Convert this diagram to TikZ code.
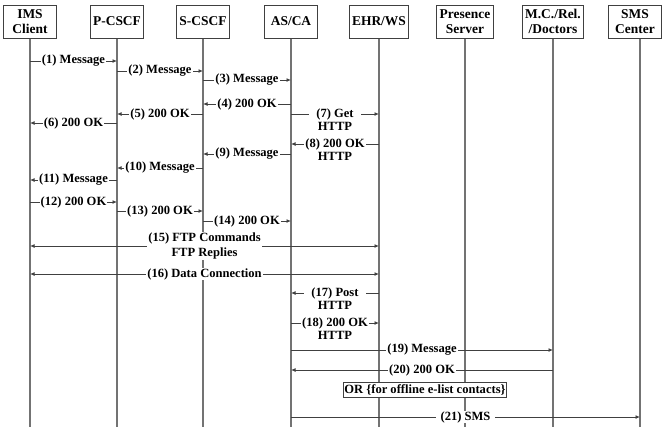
\documentclass[tikz,border=0pt]{standalone}
\usepackage{fontspec}
\setmainfont{Liberation Serif}
\usetikzlibrary{arrows.meta,positioning}

\begin{document}
\begin{tikzpicture}[
  x=1bp, y=-1bp,
  entity/.style={draw=black!75, line width=1bp, fill=white, minimum width=53bp, minimum height=33bp, inner xsep=3bp, align=center, font=\fontsize{13.5}{15}\selectfont\bfseries},
  life/.style={draw=black!55, line width=1.2bp},
  msg/.style={draw=black!75, line width=0.9bp, -{Latex[length=4.5bp,width=4bp]}},
  both/.style={msg, {Latex[length=4.5bp,width=4bp]}-{Latex[length=4.5bp,width=4bp]}},
  lbl/.style={fill=white, inner xsep=1bp, inner ysep=0.5bp, align=center, font=\fontsize{12.6}{15.5}\selectfont\bfseries},
  wide/.style={lbl, inner xsep=7bp}
  ]
  \useasboundingbox (0,0) rectangle (662,427);

  % entities
  \node[entity] (ims)   at (30,21.5)  {IMS\\Client};
  \node[entity] (pcscf) at (117,21.5) {P-CSCF};
  \node[entity] (scscf) at (203,21.5) {S-CSCF};
  \node[entity] (asca)  at (291,21.5) {AS/CA};
  \node[entity] (ehr)   at (379,21.5) {EHR/WS};
  \node[entity] (pres)  at (465,21.5) {Presence\\Server};
  \node[entity] (mc)    at (553,21.5) {M.C./Rel.\\/Doctors};
  \node[entity] (sms)   at (635,21.5) {SMS\\Center};

  % lifelines
  \coordinate (bottom) at (0,427);
  \coordinate (smsx) at ([xshift=5bp]sms.south);
  \foreach \n in {ims,pcscf,scscf,asca,ehr,pres,mc}
    \draw[life] (\n.south) -- (\n.south |- bottom);
  \draw[life] (smsx) -- (smsx |- bottom);

  % registration
  \draw[msg] (ims |- 0,61)    -- node[lbl] {(1) Message} (pcscf |- 0,61);
  \draw[msg] (pcscf |- 0,71)  -- node[lbl] {(2) Message} (scscf |- 0,71);
  \draw[msg] (scscf |- 0,80)  -- node[lbl] {(3) Message} (asca |- 0,80);
  \draw[msg] (asca |- 0,104)  -- node[lbl] {(4) 200 OK} (scscf |- 0,104);
  \draw[msg] (scscf |- 0,114) -- node[lbl] {(5) 200 OK} (pcscf |- 0,114);
  \draw[msg] (pcscf |- 0,123) -- node[lbl] {(6) 200 OK} (ims |- 0,123);

  \draw[msg] (asca |- 0,114) -- node[wide] (l7) {(7) Get} (ehr |- 0,114);
  \node[lbl, below=0.5bp of l7] (l7b) {HTTP};
  \draw[msg] (ehr |- 0,144) -- node[lbl] (l8) {(8) 200 OK} (asca |- 0,144);
  \node[lbl, below=0.5bp of l8] (l8b) {HTTP};

  \draw[msg] (asca |- 0,154)  -- node[lbl] {(9) Message} (scscf |- 0,154);
  \draw[msg] (scscf |- 0,168) -- node[lbl] {(10) Message} (pcscf |- 0,168);
  \draw[msg] (pcscf |- 0,180) -- node[lbl] {(11) Message} (ims |- 0,180);
  \draw[msg] (ims |- 0,202)   -- node[lbl] {(12) 200 OK} (pcscf |- 0,202);
  \draw[msg] (pcscf |- 0,211) -- node[lbl] {(13) 200 OK} (scscf |- 0,211);
  \draw[msg] (scscf |- 0,221) -- node[lbl] {(14) 200 OK} (asca |- 0,221);

  % file transfer
  \draw[both] (ims |- 0,246) -- node[lbl] {(15) FTP Commands\\FTP Replies} (ehr |- 0,246);
  \draw[both] (ims |- 0,274) -- node[lbl] {(16) Data Connection} (ehr |- 0,274);

  \draw[msg] (ehr |- 0,293) -- node[wide] (l17) {(17) Post} (asca |- 0,293);
  \node[lbl, below=0.5bp of l17] (l17b) {HTTP};
  \draw[msg] (asca |- 0,323) -- node[lbl] (l18) {(18) 200 OK} (ehr |- 0,323);
  \node[lbl, below=0.5bp of l18] (l18b) {HTTP};

  % notification
  \draw[msg] (asca |- 0,350) -- node[lbl] {(19) Message} (mc |- 0,350);
  \draw[msg] (mc |- 0,370)   -- node[lbl] {(20) 200 OK} (asca |- 0,370);
  \node[lbl, draw=black!75, line width=0.8bp, inner xsep=1bp, inner ysep=2bp] (orbox) at (425,390) {OR \{for offline e-list contacts\}};
  \draw[msg] (asca |- 0,417) -- node[lbl, inner xsep=5bp] {(21) SMS} (smsx |- 0,417);

\end{tikzpicture}
\end{document}
